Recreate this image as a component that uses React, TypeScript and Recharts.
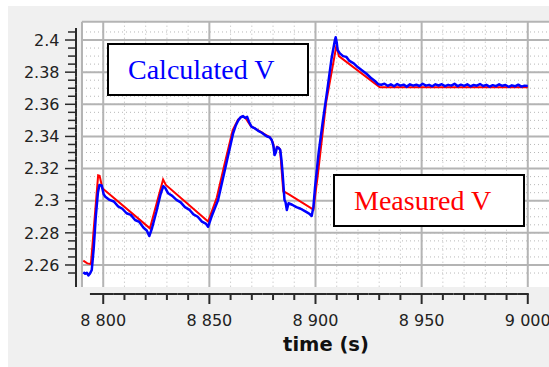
import { LineChart, Line, XAxis, YAxis, CartesianGrid } from 'recharts';

// Calculated V (blue)
const calcTime = [
  8790.6, 8791.5, 8792.3, 8793.0, 8793.8, 8794.6, 8795.5, 8796.5, 8797.5, 8798.2,
  8799.3, 8800.2, 8801.0, 8803, 8805, 8807, 8809, 8811, 8813, 8815,
  8817, 8819, 8820.5, 8821.7, 8823, 8825, 8827, 8828.3, 8829.2, 8830.6,
  8832.5, 8834.5, 8836.5, 8838.5, 8840.5, 8842.5, 8844.5, 8846.5, 8848.3, 8849.4,
  8851, 8854.1, 8857.3, 8859.5, 8861.2, 8862.5, 8863.6, 8864.8, 8865.9, 8866.8,
  8867.8, 8868.7, 8869.9, 8871.5, 8873, 8874.7, 8876, 8877.2, 8878.4, 8879.4,
  8880.2, 8880.7, 8881.3, 8881.8, 8882.6, 8883.4, 8884.0, 8884.5, 8885.4, 8885.9,
  8886.5, 8887.3, 8889, 8891, 8893, 8895, 8897, 8898.2, 8899.0, 8899.8,
  8901.5, 8903.5, 8905.6, 8907.5, 8909.0, 8909.5, 8910.0, 8910.4, 8911.5, 8913,
  8914.5, 8916, 8918, 8920, 8922, 8924, 8926, 8928, 8929.5, 8931,
  8932.5, 8934, 8935.5, 8937, 8938.5, 8940, 8941.5, 8943, 8944.5, 8946,
  8947.5, 8949, 8950.5, 8952, 8953.5, 8955, 8956.5, 8958, 8959.5, 8961,
  8962.5, 8964, 8965.5, 8967, 8968.5, 8970, 8971.5, 8973, 8974.5, 8976,
  8977.5, 8979, 8980.5, 8982, 8983.5, 8985, 8986.5, 8988, 8989.5, 8991,
  8992.5, 8994, 8995.5, 8997, 8998.5, 9000,
];
const calcVolt = [
  2.2555, 2.2545, 2.2552, 2.2535, 2.2548, 2.2569, 2.27, 2.29, 2.305, 2.3098,
  2.3095, 2.304, 2.3025, 2.3005, 2.2995, 2.2965, 2.295, 2.2922, 2.2912, 2.288,
  2.2868, 2.2832, 2.2815, 2.278, 2.283, 2.293, 2.304, 2.3091, 2.308, 2.3046,
  2.303, 2.3005, 2.299, 2.296, 2.2945, 2.2915, 2.29, 2.287, 2.2858, 2.2838,
  2.29, 2.3004, 2.3191, 2.332, 2.342, 2.347, 2.35, 2.352, 2.3527, 2.3515,
  2.3522, 2.349, 2.346, 2.345, 2.3435, 2.3423, 2.341, 2.34, 2.3395, 2.3378,
  2.334, 2.3284, 2.33, 2.3332, 2.333, 2.3316, 2.325, 2.317, 2.3004, 2.299,
  2.2942, 2.2984, 2.2975, 2.296, 2.295, 2.2935, 2.292, 2.2905, 2.296, 2.3087,
  2.33, 2.35, 2.3693, 2.388, 2.399, 2.4017, 2.3985, 2.3938, 2.3917, 2.39,
  2.3895, 2.387, 2.3855, 2.383, 2.381, 2.379, 2.3765, 2.3745, 2.3725, 2.3722,
  2.3728, 2.3715, 2.3724, 2.3712, 2.3726, 2.3716, 2.3722, 2.371, 2.3724, 2.3716,
  2.3722, 2.3714, 2.3728, 2.3716, 2.3721, 2.3712, 2.3724, 2.3717, 2.3725, 2.3713,
  2.3721, 2.3716, 2.3727, 2.3713, 2.3722, 2.3715, 2.3724, 2.3712, 2.372, 2.3716,
  2.3726, 2.3714, 2.3721, 2.371, 2.3719, 2.3713, 2.3724, 2.3715, 2.372, 2.3709,
  2.3718, 2.3712, 2.3722, 2.371, 2.3716, 2.3714,
];

// Measured V (red)
const measTime = [
  8790.6, 8792.5, 8794.2, 8796.0, 8797.6, 8798.3, 8799.6, 8822.0, 8828.2, 8829.5,
  8849.4, 8853.5, 8857.0, 8861.0, 8863.5, 8865.5, 8867.0, 8869.5, 8878.5, 8880.0,
  8880.8, 8882.0, 8883.3, 8884.8, 8887.5, 8899.0, 8901.0, 8905.0, 8909.9, 8911.0,
  8930.3, 9000,
];
const measVolt = [
  2.2627, 2.261, 2.2606, 2.29, 2.3158, 2.3155, 2.3078, 2.2828, 2.3132, 2.3098,
  2.287, 2.302, 2.322, 2.344, 2.3505, 2.3525, 2.3515, 2.3465, 2.3395, 2.336,
  2.329, 2.3335, 2.332, 2.306, 2.304, 2.2945, 2.315, 2.361, 2.3969, 2.39,
  2.3706, 2.3706,
];

const xTicks = [
  8800, 8810, 8820, 8830, 8840, 8850, 8860, 8870, 8880, 8890, 8900,
  8910, 8920, 8930, 8940, 8950, 8960, 8970, 8980, 8990, 9000,
];
const xLabels = [8800, 8850, 8900, 8950, 9000];
const yTicks = [
  2.255, 2.26, 2.265, 2.27, 2.275, 2.28, 2.285, 2.29, 2.295, 2.3, 2.305,
  2.31, 2.315, 2.32, 2.325, 2.33, 2.335, 2.34, 2.345, 2.35, 2.355,
  2.36, 2.365, 2.37, 2.375, 2.38, 2.385, 2.39, 2.395, 2.4, 2.405,
];
const yLabels = [2.26, 2.28, 2.3, 2.32, 2.34, 2.36, 2.38, 2.4];

const xDomain: [number, number] = [8790, 9010];
const yDomain: [number, number] = [2.2463, 2.4114];

const calcData = calcTime.map((t, i) => ({ t, v: calcVolt[i] }));
const measData = measTime.map((t, i) => ({ t, v: measVolt[i] }));

const FONT = '"DejaVu Sans", sans-serif';
const AXIS = '#2a2a2a';

const isIn = (list: number[], v: number) => list.some((l) => Math.abs(l - v) < 1e-9);
const fmtX = (v: number) => String(v).replace(/\B(?=(\d{3})+(?!\d))/g, ' ');

const XTick = (props: any) => {
  const { x, y, payload, index } = props;
  const v = payload.value;
  const major = isIn(xLabels, v);
  const ly = y + 7;
  const left = index === 0 ? x - 13.3 : x - 10.6;
  const right = v === xTicks[xTicks.length - 1] ? x + 1 : x + 10.6;
  return (
    <g>
      <line x1={left} x2={right} y1={ly} y2={ly} stroke={AXIS} strokeWidth={2} />
      <line x1={x} x2={x} y1={ly} y2={ly + (major ? 10 : 6)} stroke={AXIS} strokeWidth={2} />
      {major && (
        <text x={x} y={y + 39} textAnchor="middle" fontFamily={FONT} fontSize={16} fill="#222">
          {fmtX(v)}
        </text>
      )}
    </g>
  );
};

const YTick = (props: any) => {
  const { x, y, payload, index } = props;
  const v = payload.value;
  const major = isIn(yLabels, v);
  const lx = x - 6;
  return (
    <g>
      <line x1={lx} x2={lx} y1={y - 4} y2={index === 0 ? y + 14 : y + 4} stroke={AXIS} strokeWidth={2} />
      <line x1={major ? x - 17 : x - 14} x2={lx} y1={y} y2={y} stroke={AXIS} strokeWidth={1.5} />
      {major && (
        <text x={x - 22.5} y={y} dy="0.36em" textAnchor="end" fontFamily={FONT} fontSize={16} fill="#222">
          {String(v)}
        </text>
      )}
    </g>
  );
};

const boxStyle: React.CSSProperties = {
  position: 'absolute',
  boxSizing: 'border-box',
  border: '2px solid #000',
  background: '#fff',
  fontFamily: '"Liberation Serif", "Times New Roman", serif',
  fontSize: 28,
  paddingLeft: 19,
  whiteSpace: 'nowrap',
};

export default function App() {
  return (
    <div
      style={{
        position: 'fixed',
        left: 8,
        top: 6,
        width: 541,
        height: 361,
        background: '#f0f0f0',
        overflow: 'hidden',
      }}
    >
      <LineChart width={541} height={361} margin={{ top: 15.7, right: 0, left: 0, bottom: 5 }}>
        <CartesianGrid
          fill="#ffffff"
          stroke="#b8b8b8"
          strokeDasharray="1 3"
          verticalValues={xTicks}
          horizontalValues={yTicks}
        />
        <CartesianGrid
          stroke="#b4b4b4"
          strokeWidth={2}
          verticalValues={[xDomain[0], ...xLabels]}
          horizontalValues={[...yLabels, yDomain[1]]}
        />
        <XAxis
          type="number"
          dataKey="t"
          domain={xDomain}
          allowDataOverflow
          ticks={xTicks}
          interval={0}
          height={75}
          axisLine={false}
          tickLine={false}
          tickSize={0}
          tickMargin={0}
          tick={<XTick />}
          label={{
            value: 'time (s)',
            position: 'insideBottom',
            offset: 11,
            dx: 10.5,
            style: { fontFamily: FONT, fontWeight: 'bold', fontSize: 19.5, fill: '#111' },
          }}
        />
        <YAxis
          type="number"
          domain={yDomain}
          allowDataOverflow
          ticks={yTicks}
          interval={0}
          width={74}
          axisLine={false}
          tickLine={false}
          tickSize={0}
          tickMargin={0}
          tick={<YTick />}
        />
        <Line
          data={measData}
          dataKey="v"
          type="linear"
          dot={false}
          stroke="#ff0000"
          strokeWidth={2}
          isAnimationActive={false}
        />
        <Line
          data={calcData}
          dataKey="v"
          type="linear"
          dot={false}
          stroke="#0000ff"
          strokeWidth={2.5}
          strokeLinejoin="round"
          isAnimationActive={false}
        />
      </LineChart>
      <div style={{ ...boxStyle, left: 99, top: 37, width: 202, height: 53, lineHeight: '49px', color: '#0000ff' }}>
        Calculated V
      </div>
      <div style={{ ...boxStyle, left: 325, top: 168, width: 192, height: 53, lineHeight: '49px', color: '#ff0000' }}>
        Measured V
      </div>
    </div>
  );
}
